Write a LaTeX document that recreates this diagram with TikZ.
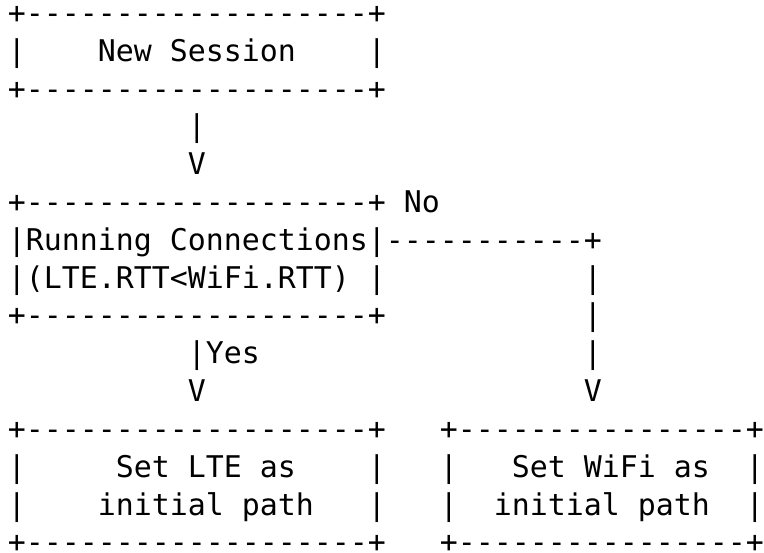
\documentclass[tikz,border=0pt]{standalone}
\usepackage{fontspec}
\setmonofont{DejaVu Sans Mono}
\tikzset{asc/.style={anchor=base west, inner sep=0pt, outer sep=0pt, text=black,
  font=\ttfamily\fontsize{29.9}{36}\selectfont}}
\newcommand\asciiat[4]{\node[asc] (#1) at ({7.9+18*#2},{-23.6-37.8*#3}) {#4};}
\begin{document}
\begin{tikzpicture}[x=1pt,y=1pt]
\fill[white] (0,0) rectangle (764,-553);
\useasboundingbox (0,0) rectangle (764,-553);
% New Session box
\asciiat{newtop}{0}{0}{+-------------------+}
\asciiat{newl}{0}{1}{|}
\asciiat{newtext}{5}{1}{New Session}
\asciiat{newr}{20}{1}{|}
\asciiat{newbot}{0}{2}{+-------------------+}
% arrow 1
\asciiat{arrAbar}{10}{3}{|}
\asciiat{arrAhead}{10}{4}{V}
% Running Connections box
\asciiat{runtop}{0}{5}{+-------------------+}
\asciiat{nolabel}{22}{5}{No}
\asciiat{runline}{0}{6}{|Running Connections|-----------+}
\asciiat{runcond}{0}{7}{|(LTE.RTT<WiFi.RTT)}
\asciiat{runr}{20}{7}{|}
\asciiat{noA}{32}{7}{|}
\asciiat{runbot}{0}{8}{+-------------------+}
\asciiat{noB}{32}{8}{|}
\asciiat{yesbar}{10}{9}{|Yes}
\asciiat{noC}{32}{9}{|}
\asciiat{yeshead}{10}{10}{V}
\asciiat{nohead}{32}{10}{V}
% LTE box
\asciiat{ltetop}{0}{11}{+-------------------+}
\asciiat{ltel1}{0}{12}{|}
\asciiat{ltetext1}{6}{12}{Set LTE as}
\asciiat{lter1}{20}{12}{|}
\asciiat{ltel2}{0}{13}{|}
\asciiat{ltetext2}{5}{13}{initial path}
\asciiat{lter2}{20}{13}{|}
\asciiat{ltebot}{0}{14}{+-------------------+}
% WiFi box
\asciiat{wifitop}{24}{11}{+----------------+}
\asciiat{wifil1}{24}{12}{|}
\asciiat{wifitext1}{28}{12}{Set WiFi as}
\asciiat{wifir1}{41}{12}{|}
\asciiat{wifil2}{24}{13}{|}
\asciiat{wifitext2}{27}{13}{initial path}
\asciiat{wifir2}{41}{13}{|}
\asciiat{wifibot}{24}{14}{+----------------+}
\end{tikzpicture}
\end{document}
